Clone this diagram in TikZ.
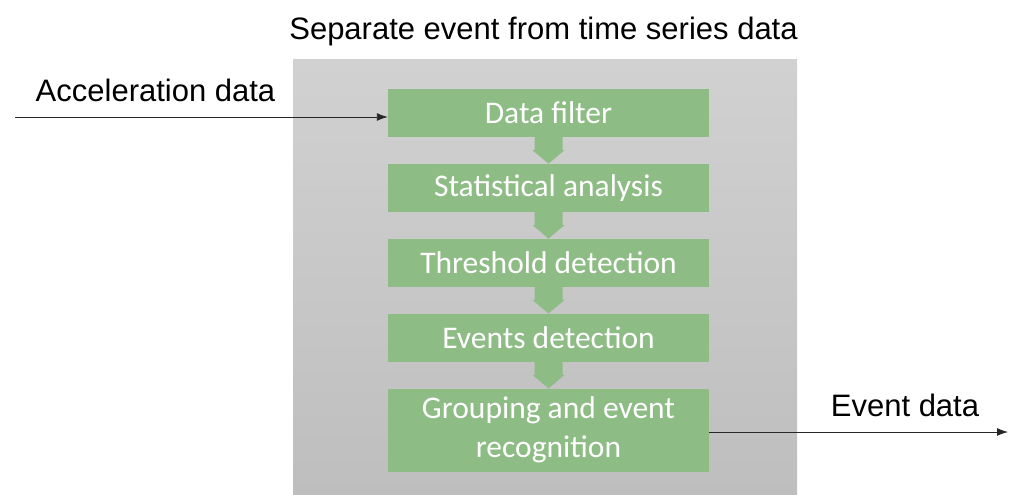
\documentclass[tikz,border=0pt]{standalone}
\usepackage{fontspec}
\setmainfont{Carlito}
\newfontfamily\labelfont{Liberation Sans}
\usetikzlibrary{calc,positioning,arrows.meta}

\definecolor{stepgreen}{RGB}{142,188,133}
\definecolor{panellight}{RGB}{209,209,209}
\definecolor{paneldark}{RGB}{190,190,190}

\begin{document}
\begin{tikzpicture}[x=1pt,y=-1pt,
  every node/.style={align=center},
  stepbox/.style={fill=stepgreen,text=white,minimum width=321pt,minimum height=48pt,
    inner sep=0pt,font=\fontsize{31.5}{39}\selectfont},
  caption/.style={font=\labelfont\fontsize{31}{36}\selectfont,anchor=base},
  flow/.style={line width=0.9pt,draw=black!85,-{Latex[length=11pt,width=8pt]}},
  node distance=26.5pt]
\useasboundingbox (0,0) rectangle (1012,495);
% grey panel
\shade[top color=panellight,bottom color=paneldark] (293,60) rectangle (797,495);
\node [caption] (Title) at (543.5,40) {Separate event from time series data};
% steps
\node [stepbox] (Filter) at (548.5,113) {Data filter};
\node [stepbox,below=of Filter] (Stats) {Statistical analysis};
\node [stepbox,below=of Stats] (Threshold) {Threshold detection};
\node [stepbox,below=of Threshold] (Events) {Events detection};
\node [stepbox,below=of Events,minimum height=83pt] (Grouping) {Grouping and event\\recognition};
% down arrows between steps
\foreach \a/\b in {Filter/Stats,Stats/Threshold,Threshold/Events,Events/Grouping}
  \fill [stepgreen] ($(\a.south)+(-14,0)$) -- ($(\a.south)+(-14,13)$) -- ($(\a.south)+(-16,13)$)
    -- (\b.north) -- ($(\a.south)+(16,13)$) -- ($(\a.south)+(14,13)$) -- ($(\a.south)+(14,0)$) -- cycle;
% input and output
\coordinate (In) at (15,117);
\coordinate (Out) at (1008,432);
\draw [flow] (In) -- (In -| Filter.west);
\draw [flow] (Out -| Grouping.east) -- (Out);
\node [caption] (InLabel) at (155.5,102) {Acceleration data};
\node [caption] (OutLabel) at (905,416) {Event data};
\end{tikzpicture}
\end{document}
